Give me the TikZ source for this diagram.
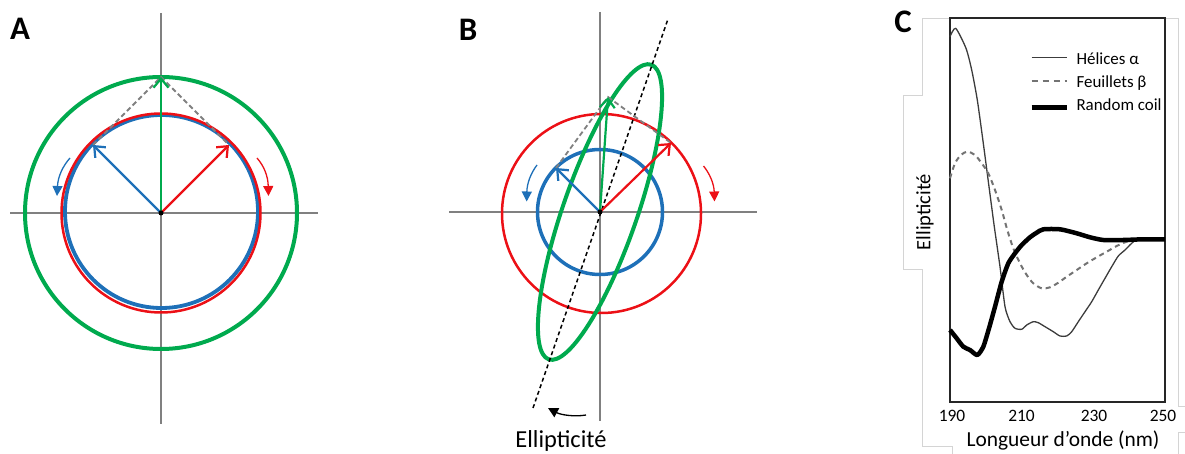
\documentclass[tikz,border=0pt]{standalone}
\usepackage{fontspec}
\setmainfont{Carlito}
\usetikzlibrary{arrows.meta}
\definecolor{cgreen}{RGB}{0,170,78}
\definecolor{cred}{RGB}{236,16,22}
\definecolor{cblue}{RGB}{30,112,184}
\definecolor{axgray}{RGB}{128,128,128}
\definecolor{framegray}{RGB}{212,212,212}
\definecolor{helixgray}{RGB}{60,60,60}
\definecolor{betagray}{RGB}{115,115,115}
\begin{document}
\begin{tikzpicture}[x=1bp,y=-1bp,
  axis/.style={axgray,line width=2bp},
  vec/.style={line width=2.2bp,-{Straight Barb[length=9bp,width=15bp]}},
  turn/.style={line width=1.3bp,-{Triangle[length=10bp,width=10bp]}},
  guide/.style={axgray,line width=1.8bp,dash pattern=on 5bp off 3bp},
  panel/.style={font=\fontsize{33}{35}\selectfont\bfseries},
  frame/.style={framegray,line width=1bp},
  lbl/.style={font=\fontsize{17}{20}\selectfont,anchor=base west},
  tick/.style={font=\fontsize{17.5}{19}\selectfont,anchor=base}]
\useasboundingbox (0,0) rectangle (1185,454);

% ---------------- Panel A ----------------
\node[panel] (labA) at (20,29) {A};
\coordinate (oA) at (161,213);
\draw[axis] (161,13) -- (161,424);
\draw[axis] (10,213) -- (318,213);
\draw[cgreen,line width=4bp] (oA) circle[radius=136];
\draw[cblue,line width=3.8bp] (161.5,211.5) circle[radius=96.5];
\draw[cred,line width=2.5bp] (oA) circle[radius=99.5];
\coordinate (gA) at (161,77);
\coordinate (bA) at (93,145);
\coordinate (rA) at (229,145);
\draw[guide] (bA) -- (gA) -- (rA);
\draw[vec,cgreen] (oA) -- (gA);
\draw[vec,cblue] (oA) -- (bA);
\draw[vec,cred] (oA) -- (rA);
\fill (oA) circle[radius=2.5];
\draw[turn,cblue] (70,158) .. controls (63,166) and (58,176) .. (57,196);
\draw[turn,cred] (257,158) .. controls (264,166) and (268,176) .. (268.5,196);

% ---------------- Panel B ----------------
\node[panel] (labB) at (468,29.5) {B};
\coordinate (oB) at (600,212);
\draw[axis] (600,12) -- (600,421);
\draw[axis] (449,212) -- (757,212);
\draw[cred,line width=2.5bp] (601.5,213.5) circle[radius=99.5];
\draw[cblue,line width=3.5bp] (600,212) circle[radius=62.5];
\draw[cgreen,line width=4bp,rotate around={70.8:(oB)}] (oB) ellipse[x radius=156,y radius=37];
\coordinate (dB1) at (533,408);
\coordinate (dB2) at (668,19);
\draw[black,line width=1.5bp,dash pattern=on 4bp off 3bp] (dB1) -- (dB2);
\coordinate (gB) at (608,97);
\coordinate (bB) at (556,168);
\coordinate (rB) at (671,143);
\draw[guide] (bB) -- (gB) -- (rB);
\draw[vec,cgreen] (oB) -- (gB);
\draw[vec,cblue] (oB) -- (bB);
\draw[vec,cred] (oB) -- (rB);
\fill (oB) circle[radius=2.5];
\draw[turn,cblue] (537,165) .. controls (531,173) and (527,183) .. (526.7,201.5);
\draw[turn,cred] (703.5,166) .. controls (710,174) and (714,184) .. (714.5,201.5);
\draw[turn,black] (586,415) .. controls (575,417) and (561,415) .. (548,408);
\node[anchor=base,font=\fontsize{24.5}{27}\selectfont,inner sep=0pt] (ellB) at (561,448) {Ellipticité};

% ---------------- Panel C ----------------
\node[panel] (labC) at (903,22) {C};
\draw[frame] (950,19) -- (922,19) -- (922,96) -- (903,96) -- (903,270) -- (922,270) -- (922,447) -- (952,447) -- (952,454);
\draw[frame] (1165,19) -- (1178,19) -- (1178,407) -- (1185,407);
\draw[frame] (1185,433) -- (1178,433) -- (1178,454);
\draw[black!85,line width=2bp] (950,18) rectangle (1165,402);

% helix
\draw[helixgray,line width=1.3bp,line join=round] plot[smooth,tension=0.4] coordinates {
 (950,36.7) (955.7,28.3) (966,48.3) (971.7,70) (977.3,100) (983.3,143.3)
 (989,186.7) (994.3,226.7) (1000,266.7) (1005,306.7) (1010,321.7) (1015,328.3)
 (1021.7,329.3) (1026.7,325) (1033.3,321.7) (1038.3,322.7) (1045,326.7)
 (1053.3,331.7) (1060,336) (1066.7,336) (1071.7,331.7) (1078.3,321.7)
 (1085,311.7) (1091.7,301.7) (1098.3,290) (1105,278.3) (1111.7,266.7)
 (1118.3,256) (1125,250) (1131.7,243.3) (1138.3,239.3) (1165,239.3)};
% beta sheet
\draw[betagray,line width=2bp,dash pattern=on 5bp off 4bp] plot[smooth,tension=0.5] coordinates {
 (950,178.3) (955,163.3) (961,155) (967.3,151.7) (975,155) (981.7,163.3)
 (988.3,173.3) (995,190) (1001.7,210) (1007.3,230) (1013.3,248.3) (1020,263.3)
 (1026.7,275) (1033.3,283.3) (1041.7,288.3) (1050,287.3) (1058.3,282.7)
 (1066.7,276.7) (1076.7,270) (1086.7,263.3) (1096.7,257.3) (1106.7,251.7)
 (1116.7,246) (1126.7,241.7) (1136.7,239.3)};
% random coil
\draw[black,line width=4.5bp,line join=round] plot[smooth,tension=0.4] coordinates {
 (950,330) (956.7,338.3) (963.3,346.7) (970,350) (977.3,355) (983.3,346.7)
 (989,328.3) (995,306.7) (1001.7,281.7) (1008.3,263.3) (1015,253.3)
 (1021.7,245) (1030,237.3) (1036.7,232.7) (1043.3,229.3) (1060,229.3)
 (1076.7,233.3) (1090,237.3) (1103.3,240) (1123.3,240) (1143.3,239.3) (1165,239.3)};

% legend
\draw[helixgray,line width=1.5bp] (1031.7,57.3) -- (1066.7,57.3);
\draw[betagray,line width=2bp,dash pattern=on 6bp off 5bp] (1031.7,81) -- (1066.7,81);
\draw[black,line width=5bp] (1031.7,107.3) -- (1066.7,107.3);
\node[lbl] (lh) at (1073,64.5) {Hélices α};
\node[lbl] (lb) at (1073,87.5) {Feuillets β};
\node[lbl] (lr) at (1073,110.5) {Random coil};

% axis labels
\node[tick] (t190) at (952,421.7) {190};
\node[tick] (t210) at (1021.5,421.7) {210};
\node[tick] (t230) at (1094,421.7) {230};
\node[tick] (t250) at (1163,421.7) {250};
\node[anchor=base,font=\fontsize{21.5}{24}\selectfont] (xl) at (1063,446.5) {Longueur d’onde (nm)};
\node[rotate=90,font=\fontsize{20.5}{22}\selectfont] (yl) at (925,212) {Ellipticité};
\end{tikzpicture}
\end{document}
